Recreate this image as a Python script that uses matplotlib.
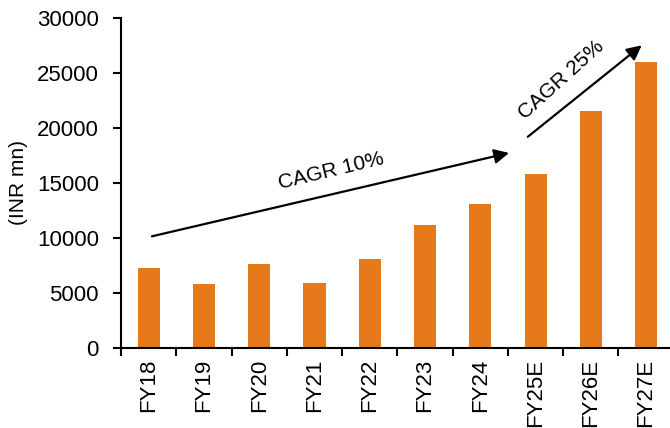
import matplotlib.pyplot as plt
import numpy as np

plt.rcParams['font.family'] = ['Liberation Sans', 'DejaVu Sans']

years = ['FY18', 'FY19', 'FY20', 'FY21', 'FY22', 'FY23', 'FY24', 'FY25E', 'FY26E', 'FY27E']
revenue = [7300, 5800, 7600, 5950, 8100, 11150, 13100, 15800, 21500, 26000]
cagr_hist = 'CAGR 10%'
cagr_fcst = 'CAGR 25%'

fig = plt.figure(figsize=(6.7, 4.28), dpi=100)
ax = fig.add_axes([0.1806, 0.187, 0.825, 0.771])

x = np.arange(len(years))
ax.bar(x, revenue, width=0.4, color='#E67A1A')

ax.set_xlim(-0.5, 9.5)
ax.set_ylim(0, 30000)
ax.set_yticks(np.arange(0, 30001, 5000))
ax.set_xticks(x)
ax.set_xticklabels(years, rotation=90, fontsize=16)
ax.set_xticks(np.arange(-0.5, 9.6, 1), minor=True)
ax.tick_params(axis='x', which='major', length=0, pad=8)
ax.tick_params(axis='x', which='minor', length=6, width=1.5, direction='out')
ax.tick_params(axis='y', labelsize=16, length=6, width=1.5, direction='out', pad=10)
ax.set_ylabel('(INR mn)', fontsize=15, labelpad=6)

for s in ['top', 'right']:
    ax.spines[s].set_visible(False)
for s in ['left', 'bottom']:
    ax.spines[s].set_linewidth(1.5)

# growth arrows
arrow = dict(arrowstyle='-|>', color='black', lw=1.6, mutation_scale=22, shrinkA=0, shrinkB=0)
ax.annotate('', xy=(6.52, 17730), xytext=(0.06, 10150), arrowprops=arrow)
ax.annotate('', xy=(8.92, 27510), xytext=(6.86, 19200), arrowprops=arrow)
ax.text(3.3, 16050, cagr_hist, fontsize=15, rotation=13.5, ha='center', va='center')
ax.text(7.46, 24400, cagr_fcst, fontsize=15, rotation=42, ha='center', va='center')

fig.savefig('out.png', dpi=100)
